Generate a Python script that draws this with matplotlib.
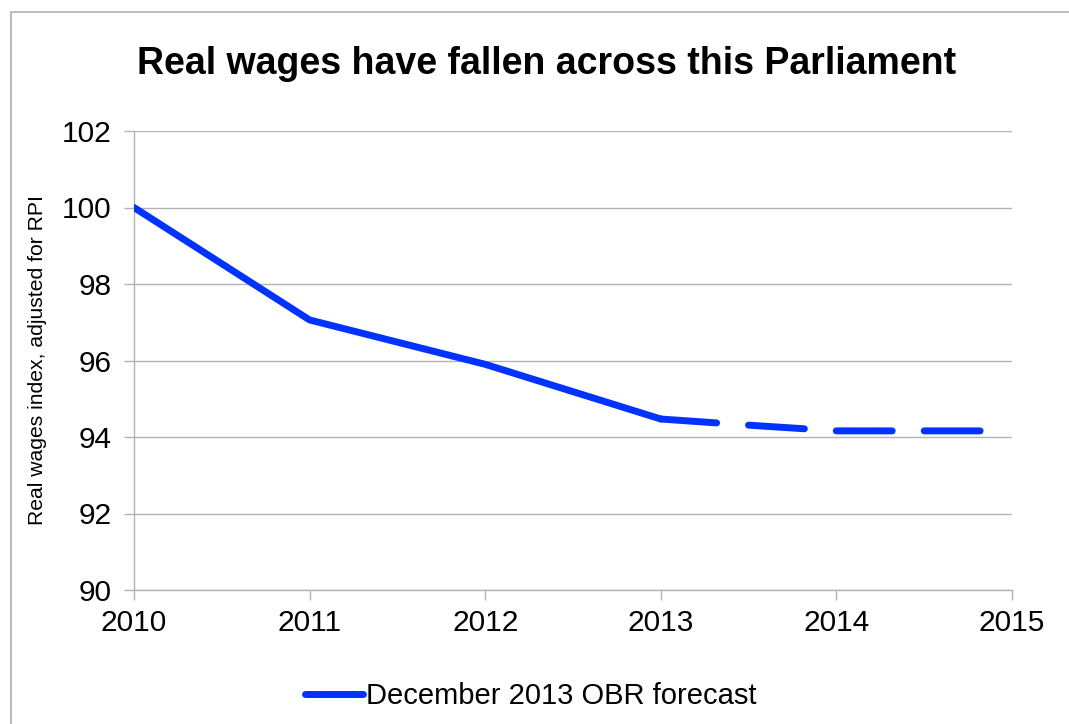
import matplotlib
matplotlib.use('Agg')
import matplotlib.pyplot as plt
from matplotlib.lines import Line2D
from matplotlib.patches import Rectangle

plt.rcParams['font.family'] = ['Liberation Sans', 'DejaVu Sans']
plt.rcParams['lines.scale_dashes'] = False

# outturn (solid) and OBR forecast (dashed)
years_actual = [2010, 2011, 2012, 2013]
wages_actual = [100.0, 97.06, 95.9, 94.47]
years_forecast = [2013, 2013.5, 2014, 2014.83]
wages_forecast = [94.47, 94.31, 94.16, 94.16]

x_ticks = [2010, 2011, 2012, 2013, 2014, 2015]
y_ticks = [90, 92, 94, 96, 98, 100, 102]

line_color = '#0033ff'
grid_color = '#b3b3b3'

fig = plt.figure(figsize=(10.69, 7.24), dpi=100)
ax = fig.add_axes([134 / 1069, 1 - 590 / 724, (1012 - 134) / 1069, (590 - 131) / 724])

# outer chart border
fig.patches.append(Rectangle((11 / 1069, -0.05), 1.1, 1 - 12 / 724 + 0.05,
                             transform=fig.transFigure, fill=False,
                             edgecolor='#b0b0b0', linewidth=1.2))

ax.plot(years_actual, wages_actual, color=line_color, linewidth=5.0,
        solid_capstyle='round', solid_joinstyle='round', zorder=3)
ax.plot(years_forecast, wages_forecast, color=line_color, linewidth=5.0,
        dashes=(40.3, 23.0), dash_capstyle='round', dash_joinstyle='round', zorder=3)

ax.set_xlim(2010, 2015)
ax.set_ylim(90, 102)
ax.set_xticks(x_ticks)
ax.set_yticks(y_ticks)
ax.set_xticklabels([str(x) for x in x_ticks])
ax.tick_params(axis='both', labelsize=21.5, color=grid_color, length=7, width=1)
ax.tick_params(axis='x', pad=7)
ax.tick_params(axis='y', pad=9)

ax.yaxis.grid(True, color=grid_color, linewidth=1)
ax.set_axisbelow(True)
for side in ['top', 'right']:
    ax.spines[side].set_visible(False)
for side in ['left', 'bottom']:
    ax.spines[side].set_color(grid_color)
    ax.spines[side].set_linewidth(1)

ax.set_ylabel('Real wages index, adjusted for RPI', fontsize=15.2, labelpad=11)

fig.text(547 / 1069, 1 - 64 / 724, 'Real wages have fallen across this Parliament',
         ha='center', va='center', fontsize=27, fontweight='bold')

handle = Line2D([], [], color=line_color, linewidth=5.0, solid_capstyle='round')
fig.legend([handle], ['December 2013 OBR forecast'], loc='center',
           bbox_to_anchor=(531 / 1069, 1 - 696 / 724), frameon=False,
           fontsize=21, handlelength=2.0, handletextpad=0.1)

fig.savefig('out.png', dpi=100, facecolor='white')
